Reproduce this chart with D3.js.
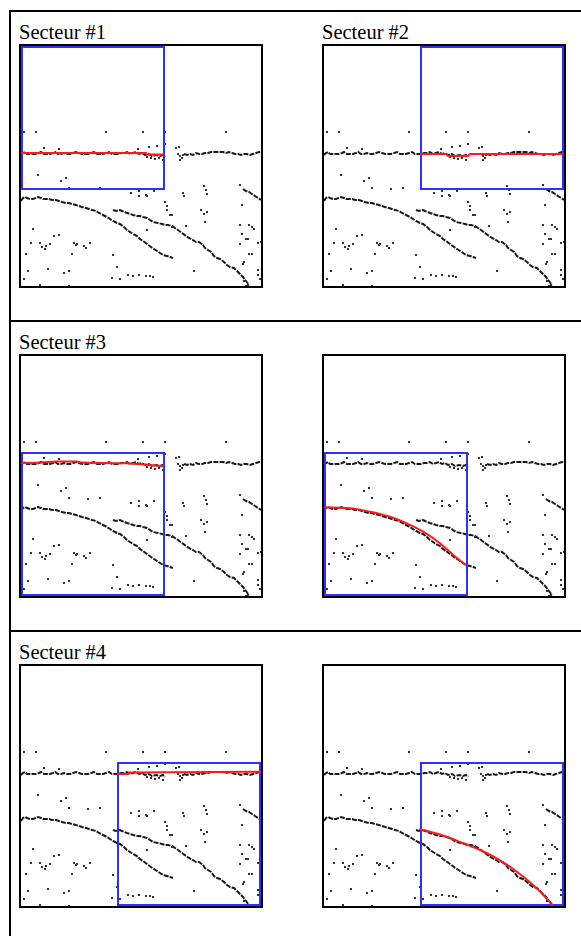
<!DOCTYPE html>
<html>
<head>
<meta charset="utf-8">
<script src="https://cdn.jsdelivr.net/npm/d3@7"></script>
<style>
  body { margin: 0; background: #fff; overflow: hidden; }
  svg { display: block; }
</style>
</head>
<body>
<div id="chart"></div>
<script>
// Page size
var svgWidth = 581;
var svgHeight = 936;

// Panel titles, one per panel (row by row, left then right)
var panelTitles = ["Secteur #1", "Secteur #2", "Secteur #3", "", "Secteur #4", ""];

// Search window of each panel, top-left corner in image pixels (window is 144 x 144)
var windowCorners = [[0, 0], [96, 0], [0, 96], [0, 96], [96, 96], [96, 96]];
var windowSize = 144;

// Detected edge traces (image pixels, 240 x 240)
var traceH1 = [[0,109],[2,107],[4,106],[6,108],[9,108],[12,108],[15,108],[18,107],[20,106],[23,108],[26,108],[29,108],[32,107],[34,106],[37,108],[40,108],[43,107],[46,108],[49,108],[52,107],[55,106],[58,107],[61,108],[64,108],[67,108],[70,107],[73,106],[76,108],[79,108],[82,108],[85,107],[88,106],[91,108],[94,108],[97,108],[100,107],[103,107],[106,106],[109,108],[112,107],[115,106],[118,108],[121,107],[124,109],[128,108],[131,110],[135,109],[139,110],[142,109],[144,111]];
var traceH2 = [[163,108],[166,109],[169,108],[172,109],[175,107],[178,108],[181,108],[184,107],[187,107],[190,106],[193,106],[196,106],[199,106],[202,106],[205,107],[208,106],[211,107],[214,108],[217,108],[220,109],[223,108],[226,108],[229,109],[232,108],[235,107],[238,106],[240,106]];
var traceA = [[0,155],[2,152],[4,151],[6,152],[9,153],[12,153],[17,151],[20,152],[22,153],[25,153],[28,153],[31,154],[35,154],[38,155],[41,156],[45,157],[48,157],[51,158],[55,159],[58,160],[61,161],[65,162],[68,163],[71,164],[75,165],[78,167],[82,169],[86,171],[89,173],[92,175],[96,177],[99,178],[103,181],[106,184],[109,186],[112,188],[116,190],[119,193],[122,195],[126,198],[130,201],[133,203],[136,205],[139,207],[142,209],[146,210],[149,211],[152,212]];
var traceB = [[92,164],[95,165],[99,164],[101,165],[106,167],[109,168],[112,169],[116,170],[119,170],[122,171],[126,172],[129,174],[132,176],[137,177],[141,178],[144,179],[147,179],[151,180],[154,182],[157,184],[161,187],[165,190],[168,192],[172,194],[175,196],[178,196],[182,199],[184,202],[187,204],[190,206],[193,210],[196,212],[199,213],[203,216],[206,219],[209,221],[213,222],[216,225],[219,228],[222,231],[225,235],[228,239]];
var traceD = [[222,143],[225,145],[228,146],[231,148],[234,150],[237,152],[240,154]];
var traces = [traceH1, traceH2, traceA, traceB, traceD];

// Isolated edge points (image pixels)
var scatterDots = [
  [3,86],[15,86],[85,86],[122,86],[144,86],[205,86],
  [23,102],[38,103],[117,103],[128,101],[136,100],[144,98],[126,111],[130,112],[134,113],[138,112],[142,114],
  [155,102],[158,101],[157,108],[159,110],[159,114],[162,109],[161,112],
  [17,129],[40,135],[45,132],[48,142],[67,143],[79,142],[110,147],[118,145],[118,150],[125,149],[126,150],[133,145],
  [144,156],[146,160],[146,164],[149,169],[151,169],[162,147],[163,150],[183,140],[185,144],[186,148],[219,139],
  [221,159],[180,164],[183,168],[186,166],[184,176],[165,180],[151,181],[126,184],
  [219,179],[228,179],[231,181],[233,183],[221,188],[225,193],[227,193],[237,197],[240,196],[219,198],
  [228,208],[231,208],[223,216],[222,218],[237,224],[237,229],[173,225],[223,235],[227,239],[225,240],[239,233],
  [12,183],[33,190],[38,189],[10,197],[19,197],[21,201],[24,203],[25,200],[29,198],[5,208],[51,208],
  [53,197],[55,199],[56,198],[63,200],[65,202],[69,197],[27,223],[7,225],[43,227],[48,225],[3,233],[19,239],[48,240],
  [92,209],[96,221],[107,229],[112,230],[118,229],[125,230],[129,230],[132,231],[91,232],[99,233]
];

// Fitted curve of each panel (image pixels)
var fitCurves = [
  [[0,107],[125,107],[126,108.5],[143,108.5]],
  [[96,108],[122,108],[124,110],[144,110],[146,108],[239,108]],
  [[0,107],[20,106.5],[36,105.5],[56,105.5],[60,106.5],[105,107.3],[125,108.7],[143,110.3]],
  [[0,151.3],[26,152.3],[46,155.7],[66,160.7],[82.7,167.3],[99.3,175.7],[116,187.3],[129.3,199],[141.7,209]],
  [[96,108],[107,108],[108,106.5],[240,105.7]],
  [[95.3,163.3],[106,165.7],[122.7,170.7],[139.3,177.3],[156,184],[172.7,192.3],[186,200.7],[199.3,210.7],[212.7,222.3],[221,230.7],[228.7,239]]
];

// Layout of the table cells
var colX = [21, 324];
var rowY = [46, 356, 666];
var imgSize = 240;

var svg = d3.select("#chart")
    .append("svg")
    .attr("width", svgWidth)
    .attr("height", svgHeight);

// table borders
svg.append("rect").attr("x", 9).attr("y", 10).attr("width", 2).attr("height", svgHeight - 10).attr("fill", "#000");
[10, 320, 630].forEach(y => {
    svg.append("rect").attr("x", 9).attr("y", y).attr("width", svgWidth - 9).attr("height", 2).attr("fill", "#000");
});

var xScale = d3.scaleLinear().domain([0, 240]).range([0, imgSize]);
var yScale = d3.scaleLinear().domain([0, 240]).range([0, imgSize]);

var traceLine = d3.line()
    .x(d => xScale(d[0]))
    .y(d => yScale(d[1]));

var fitLine = d3.line()
    .x(d => xScale(d[0]))
    .y(d => yScale(d[1]))
    .curve(d3.curveMonotoneX);

panelTitles.forEach((title, i) => {
    var col = i % 2;
    var row = Math.floor(i / 2);
    var px = colX[col];
    var py = rowY[row];

    if (title) {
        svg.append("text")
            .attr("x", px - 2)
            .attr("y", py - 6.7)
            .attr("font-family", "Liberation Serif, DejaVu Serif, serif")
            .attr("font-size", 20.5)
            .attr("fill", "#000")
            .text(title);
    }

    var g = svg.append("g")
        .attr("transform", `translate(${px}, ${py})`);

    g.append("clipPath").attr("id", "clip" + i)
        .append("rect").attr("width", imgSize).attr("height", imgSize);

    g.append("rect")
        .attr("width", imgSize)
        .attr("height", imgSize)
        .attr("fill", "#fff");

    var inner = g.append("g").attr("clip-path", `url(#clip${i})`);

    inner.selectAll("path.trace")
        .data(traces)
        .enter()
        .append("path")
        .attr("class", "trace")
        .attr("d", traceLine)
        .attr("fill", "none")
        .attr("stroke", "#1a1a1a")
        .attr("stroke-width", 2)
        .attr("stroke-dasharray", "5 1.2");

    inner.selectAll("rect.dot")
        .data(scatterDots)
        .enter()
        .append("rect")
        .attr("class", "dot")
        .attr("x", d => xScale(d[0]) - 1)
        .attr("y", d => yScale(d[1]) - 1)
        .attr("width", 2)
        .attr("height", 2)
        .attr("fill", "#333");

    // search window
    var w = windowCorners[i];
    inner.append("rect")
        .attr("x", xScale(w[0]) + 1)
        .attr("y", yScale(w[1]) + 1)
        .attr("width", xScale(windowSize) - 2)
        .attr("height", yScale(windowSize) - 2)
        .attr("fill", "none")
        .attr("stroke", "#2f2fff")
        .attr("stroke-width", 2);

    // fitted curve
    inner.append("path")
        .attr("d", fitLine(fitCurves[i]))
        .attr("fill", "none")
        .attr("stroke", "#ff1a1a")
        .attr("stroke-width", 2);

    // image frame
    g.append("rect")
        .attr("x", -1)
        .attr("y", -1)
        .attr("width", imgSize + 2)
        .attr("height", imgSize + 2)
        .attr("fill", "none")
        .attr("stroke", "#000")
        .attr("stroke-width", 2);
});
</script>
</body>
</html>
